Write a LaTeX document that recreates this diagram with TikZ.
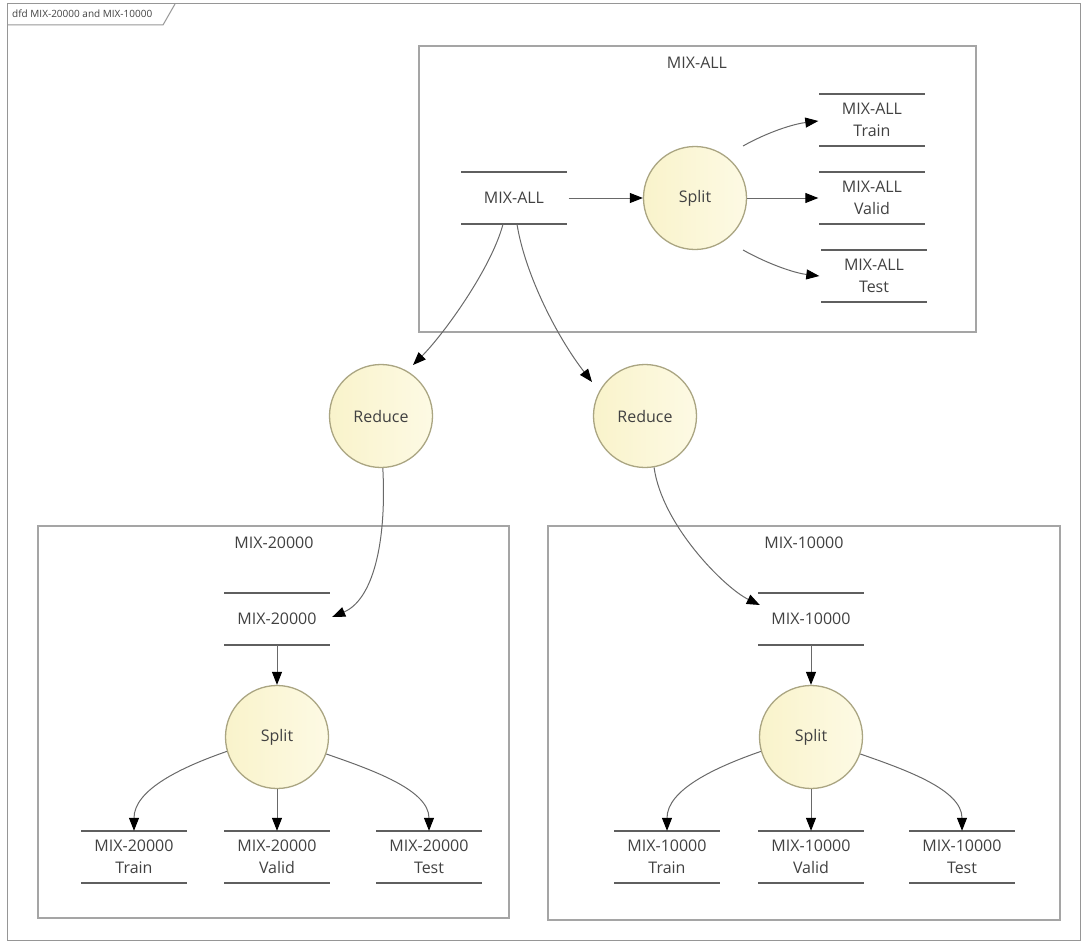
\documentclass[tikz,border=0pt]{standalone}
\usepackage{fontspec}
\setmainfont{Open Sans}
\usetikzlibrary{arrows.meta,calc}
\definecolor{framegray}{RGB}{150,150,150}
\definecolor{boxgray}{RGB}{165,165,165}
\definecolor{storegray}{RGB}{95,95,95}
\definecolor{linegray}{RGB}{105,105,105}
\definecolor{txt}{RGB}{65,65,65}
\definecolor{circborder}{RGB}{170,165,130}
\definecolor{circL}{RGB}{249,243,203}
\definecolor{circR}{RGB}{253,250,228}
\newcommand\storelines[1]{\draw[storeline] (#1.north west) -- (#1.north east) (#1.south west) -- (#1.south east);}
\begin{document}
\begin{tikzpicture}[x=1pt,y=-1pt,
  proc/.style={circle, draw=circborder, line width=1.3pt, minimum size=103pt, inner sep=0pt,
    left color=circL, right color=circR, font=\fontsize{16}{20}\selectfont, text=txt},
  store/.style={minimum width=105pt, minimum height=52pt, inner sep=0pt, align=center,
    font=\fontsize{16}{22}\selectfont, text=txt},
  storeline/.style={draw=storegray, line width=2.4pt},
  boxnode/.style={draw=boxgray, line width=1.3pt, inner sep=0pt},
  boxtitle/.style={font=\fontsize{16}{20}\selectfont, text=txt, inner sep=0pt},
  flow/.style={draw=linegray, line width=1pt, -{Triangle[length=13pt,width=10pt,color=black]}}
]
\useasboundingbox (0,0) rectangle (1081,942);
% outer frame and tab
\draw[framegray, line width=1pt] (7,4) rectangle (1080,940);
\draw[framegray, line width=1pt] (7,25) -- (163,25) -- (175,4);
\node[anchor=west, font=\fontsize{10}{12}\selectfont, text=txt, inner sep=0pt] (frametitle) at (12,14) {dfd MIX-20000 and MIX-10000};

% containers
\node[boxnode, minimum width=557pt, minimum height=286pt] (boxAll) at (697.5,189) {};
\node[boxtitle] (tAll) at (697,63) {MIX-ALL};
\node[boxnode, minimum width=471pt, minimum height=392pt] (box20) at (273.5,722) {};
\node[boxtitle] (t20) at (274,543) {MIX-20000};
\node[boxnode, minimum width=512pt, minimum height=394pt] (box10) at (804,723) {};
\node[boxtitle] (t10) at (804,543) {MIX-10000};

% MIX-ALL
\node[store] (sMixAll) at (514,198) {MIX-ALL};
\node[proc] (splitA) at (695,198) {Split};
\node[store] (trainA) at (872,120) {MIX-ALL\\Train};
\node[store] (validA) at (872,198) {MIX-ALL\\Valid};
\node[store] (testA) at (874,276) {MIX-ALL\\Test};
\storelines{sMixAll}\storelines{trainA}\storelines{validA}\storelines{testA}

% reduce
\node[proc] (reduceL) at (381,416) {Reduce};
\node[proc] (reduceR) at (645,416) {Reduce};

% MIX-20000
\node[store] (s20) at (277,619) {MIX-20000};
\node[proc] (split20) at (277,737) {Split};
\node[store] (train20) at (134,857) {MIX-20000\\Train};
\node[store] (valid20) at (277,857) {MIX-20000\\Valid};
\node[store] (test20) at (429,857) {MIX-20000\\Test};
\storelines{s20}\storelines{train20}\storelines{valid20}\storelines{test20}

% MIX-10000
\node[store] (s10) at (811,619) {MIX-10000};
\node[proc] (split10) at (811,737) {Split};
\node[store] (train10) at (667,857) {MIX-10000\\Train};
\node[store] (valid10) at (811,857) {MIX-10000\\Valid};
\node[store] (test10) at (962,857) {MIX-10000\\Test};
\storelines{s10}\storelines{train10}\storelines{valid10}\storelines{test10}

% flows MIX-ALL
\draw[flow] ([xshift=2pt]sMixAll.east) -- (splitA.west);
\draw[flow] (splitA.east) -- ([xshift=-1pt]validA.west);
\draw[flow] ($(splitA)+(48,-52)$) .. controls +(25,-14) and +(-25,3) .. ($(trainA.west)+(-1,1)$);
\draw[flow] ($(splitA)+(48,52)$) .. controls +(25,14) and +(-25,-3) .. ($(testA.west)+(-2,0)$);
\draw[flow] ($(sMixAll.south)+(-11,0)$) .. controls +(-12,45) and +(30,-30) .. ($(reduceL)+(32,-51)$);
\draw[flow] ($(sMixAll.south)+(3,0)$) .. controls +(8,50) and +(-35,-45) .. ($(reduceR)+(-53,-34)$);

% reduce flows
\draw[flow] (reduceL.-88) .. controls +(4,77) and +(40,-17) .. ($(s20.east)+(2.5,-2)$);
\draw[flow] (reduceR.-80) .. controls +(8,58) and +(-35,-17) .. ($(s10.west)+(1.5,-14)$);

% MIX-20000 flows
\draw[flow] (s20.south) -- (split20.north);
\draw[flow] (split20.196) .. controls +(-46,16) and +(0,-41) .. (train20.north);
\draw[flow] (split20.south) -- (valid20.north);
\draw[flow] (split20.-19) .. controls +(46,16) and +(0,-41) .. (test20.north);

% MIX-10000 flows
\draw[flow] (s10.south) -- (split10.north);
\draw[flow] (split10.196) .. controls +(-46,16) and +(0,-41) .. (train10.north);
\draw[flow] (split10.south) -- (valid10.north);
\draw[flow] (split10.-19) .. controls +(46,16) and +(0,-41) .. (test10.north);
\end{tikzpicture}
\end{document}
